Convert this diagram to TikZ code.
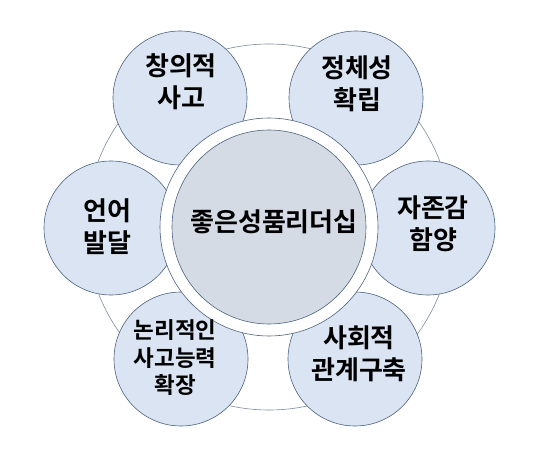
\documentclass[tikz,border=0pt]{standalone}
\usepackage{fontspec}
\setmainfont{Noto Sans CJK KR}[BoldFont={Noto Sans CJK KR Bold}]
\definecolor{satfill}{HTML}{DAE4F2}
\definecolor{satline}{HTML}{4E6480}
\definecolor{ringline}{HTML}{7F8C9E}
\definecolor{corefill}{HTML}{D5DBE4}
\begin{document}
\begin{tikzpicture}[x=1pt,y=-1pt,
  sat/.style={circle,draw=satline,fill=satfill,line width=0.6pt,minimum size=134pt,inner sep=0pt},
  lbl/.style={align=center,font=\fontsize{26}{32}\selectfont\bfseries,text=black,inner sep=0pt},
  lblsmall/.style={align=center,font=\fontsize{22.5}{27.5}\selectfont\bfseries,text=black,inner sep=0pt}]
\useasboundingbox[fill=white] (0,0) rectangle (540,454);
\node[circle,draw=ringline,line width=0.6pt,minimum size=366pt,inner sep=0pt] (ring) at (269,227) {};
\node[sat] (tl) at (180,98) {};
\node[sat] (tr) at (356,98) {};
\node[sat] (r) at (428,228) {};
\node[sat] (l) at (111,228) {};
\node[sat] (br) at (355,359) {};
\node[sat] (bl) at (181,359) {};
\node[circle,draw=satline,fill=white,line width=0.6pt,minimum size=218pt,inner sep=0pt] (halo) at (269,227) {};
\node[circle,draw=satline,fill=corefill,line width=0.6pt,minimum size=194pt,inner sep=0pt] (core) at (269,227) {};
\node[lbl] (tcore) at (274,222) {좋은성품리더십};
\node[lbl] (ttl) at (181,82) {창의적\\사고};
\node[lbl] (ttr) at (357,84) {정체성\\확립};
\node[lbl] (tr2) at (433,224) {자존감\\함양};
\node[lbl] (tl2) at (107,227) {언어\\발달};
\node[lbl] (tbr) at (359,354) {사회적\\관계구축};
\node[lblsmall] (tbl) at (175,358) {논리적인\\사고능력\\확장};
\end{tikzpicture}
\end{document}
